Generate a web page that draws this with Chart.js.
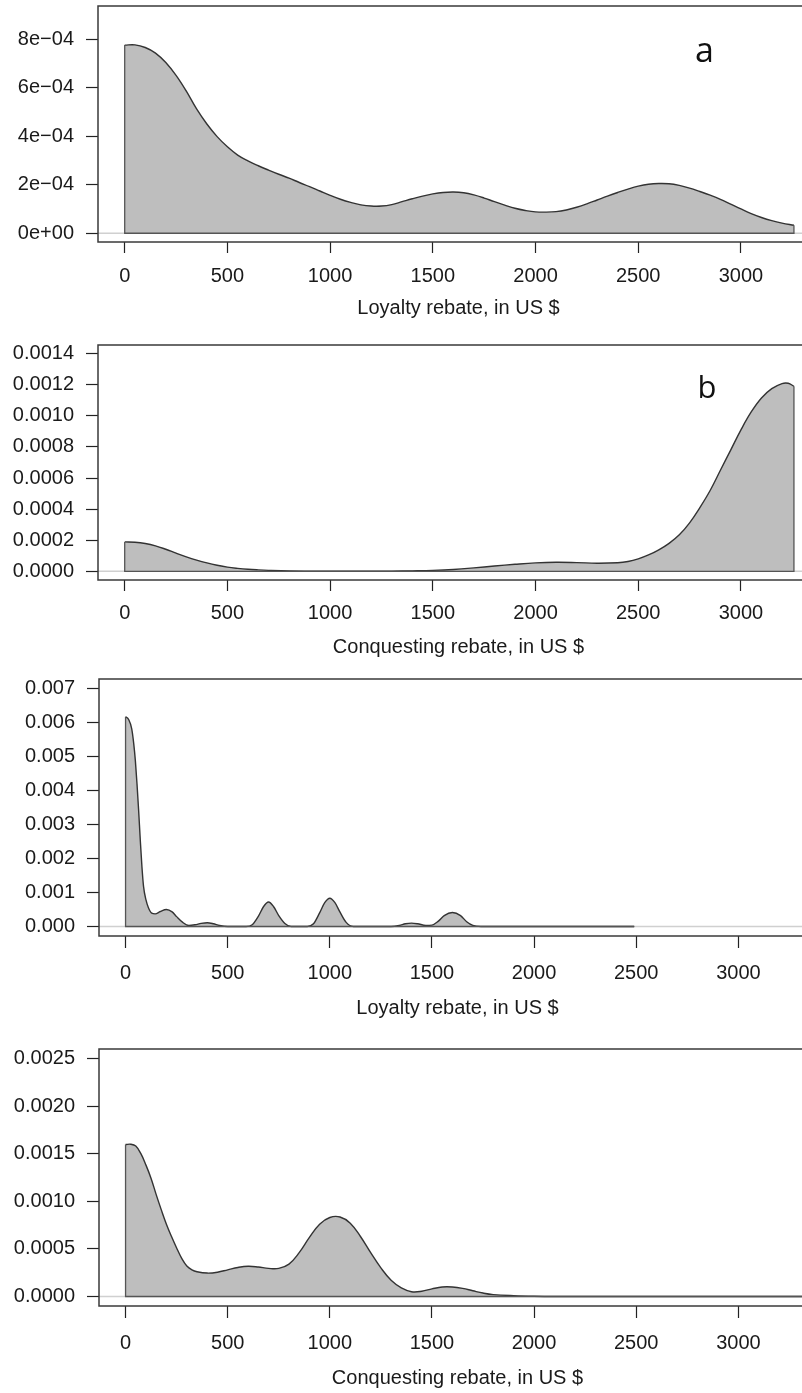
<!DOCTYPE html>
<html>
<head>
<meta charset="utf-8">
<script src="https://cdn.jsdelivr.net/npm/chart.js@4/dist/chart.umd.min.js"></script>
<style>
html,body{margin:0;padding:0;background:#fff;overflow:hidden;width:802px;height:1393px;}
#wrap{position:relative;width:802px;height:1393px;overflow:hidden;}
canvas{position:absolute;left:0;}
</style>
</head>
<body>
<div id="wrap">
<canvas id="cA" width="819" height="330" style="top:0px;width:819px;height:330px"></canvas>
<canvas id="cB" width="819" height="330" style="top:330px;width:819px;height:330px"></canvas>
<canvas id="cC" width="816" height="370" style="top:660px;width:816px;height:370px"></canvas>
<canvas id="cD" width="816" height="363" style="top:1030px;width:816px;height:363px"></canvas>
</div>
<script>
// ---------- data ----------
const xTickValues = [0, 500, 1000, 1500, 2000, 2500, 3000];
const xTickLabels = ['0', '500', '1000', '1500', '2000', '2500', '3000'];

// panel a: loyalty rebate density
const aRebate  = [0, 50, 100, 150, 200, 250, 300, 350, 400, 450, 500, 550, 600, 650, 700, 750, 800, 850, 900, 950, 1000, 1050, 1100, 1150, 1200, 1250, 1300, 1350, 1400, 1450, 1500, 1550, 1600, 1650, 1700, 1750, 1800, 1850, 1900, 1950, 2000, 2050, 2100, 2150, 2200, 2250, 2300, 2350, 2400, 2450, 2500, 2550, 2600, 2650, 2700, 2750, 2800, 2850, 2900, 2950, 3000, 3050, 3100, 3150, 3200, 3258];
const aDensity = [7.75e-4, 7.76e-4, 7.65e-4, 7.42e-4, 7.03e-4, 6.5e-4, 5.85e-4, 5.12e-4, 4.5e-4, 3.98e-4, 3.56e-4, 3.22e-4, 2.98e-4, 2.78e-4, 2.6e-4, 2.43e-4, 2.27e-4, 2.09e-4, 1.92e-4, 1.74e-4, 1.56e-4, 1.4e-4, 1.27e-4, 1.17e-4, 1.12e-4, 1.12e-4, 1.18e-4, 1.3e-4, 1.42e-4, 1.53e-4, 1.62e-4, 1.68e-4, 1.7e-4, 1.67e-4, 1.58e-4, 1.45e-4, 1.3e-4, 1.16e-4, 1.03e-4, 0.94e-4, 0.88e-4, 0.87e-4, 0.89e-4, 0.96e-4, 1.07e-4, 1.21e-4, 1.37e-4, 1.53e-4, 1.68e-4, 1.82e-4, 1.94e-4, 2.02e-4, 2.05e-4, 2.04e-4, 1.97e-4, 1.86e-4, 1.72e-4, 1.57e-4, 1.4e-4, 1.2e-4, 1.0e-4, 0.81e-4, 0.65e-4, 0.52e-4, 0.42e-4, 0.33e-4];
const aYTicks = [0, 2e-4, 4e-4, 6e-4, 8e-4];
const aYLabels = ['0e+00', '2e\u221204', '4e\u221204', '6e\u221204', '8e\u221204'];

// panel b: conquesting rebate density
const bRebate  = [0, 50, 100, 150, 200, 250, 300, 350, 400, 450, 500, 550, 600, 650, 700, 800, 900, 1000, 1100, 1200, 1300, 1400, 1500, 1600, 1700, 1800, 1900, 2000, 2100, 2200, 2300, 2400, 2450, 2500, 2550, 2600, 2650, 2700, 2750, 2800, 2850, 2900, 2950, 3000, 3050, 3100, 3150, 3200, 3230, 3258];
const bDensity = [1.89e-4, 1.87e-4, 1.79e-4, 1.64e-4, 1.42e-4, 1.17e-4, 0.93e-4, 0.72e-4, 0.54e-4, 0.39e-4, 0.27e-4, 0.19e-4, 0.13e-4, 0.09e-4, 0.06e-4, 0.02e-4, 0.005e-4, 0, 0, 0.003e-4, 0.01e-4, 0.03e-4, 0.06e-4, 0.12e-4, 0.22e-4, 0.34e-4, 0.45e-4, 0.54e-4, 0.58e-4, 0.56e-4, 0.52e-4, 0.55e-4, 0.63e-4, 0.8e-4, 1.05e-4, 1.38e-4, 1.8e-4, 2.35e-4, 3.12e-4, 4.1e-4, 5.2e-4, 6.5e-4, 7.8e-4, 9.1e-4, 10.25e-4, 11.15e-4, 11.75e-4, 12.08e-4, 12.1e-4, 11.9e-4];
const bYTicks = [0, 0.0002, 0.0004, 0.0006, 0.0008, 0.0010, 0.0012, 0.0014];
const bYLabels = ['0.0000', '0.0002', '0.0004', '0.0006', '0.0008', '0.0010', '0.0012', '0.0014'];

// panel c: loyalty rebate density (second sample)
const cRebate  = [0, 15, 30, 40, 48, 56, 64, 72, 80, 88, 100, 112, 128, 145, 170, 200, 228, 250, 280, 310, 340, 370, 400, 430, 460, 500, 590, 620, 650, 675, 700, 725, 750, 780, 810, 890, 920, 950, 975, 1000, 1025, 1050, 1080, 1115, 1300, 1340, 1370, 1400, 1430, 1470, 1500, 1530, 1560, 1600, 1640, 1670, 1700, 1740, 2490];
const cDensity = [6.17e-3, 6.09e-3, 5.82e-3, 5.38e-3, 4.88e-3, 4.2e-3, 3.42e-3, 2.55e-3, 1.77e-3, 1.18e-3, 0.78e-3, 0.55e-3, 0.39e-3, 0.37e-3, 0.44e-3, 0.5e-3, 0.43e-3, 0.29e-3, 0.12e-3, 0.03e-3, 0.05e-3, 0.09e-3, 0.11e-3, 0.08e-3, 0.03e-3, 0, 0, 0.05e-3, 0.3e-3, 0.58e-3, 0.72e-3, 0.58e-3, 0.32e-3, 0.09e-3, 0, 0, 0.08e-3, 0.4e-3, 0.7e-3, 0.83e-3, 0.7e-3, 0.42e-3, 0.12e-3, 0, 0, 0.03e-3, 0.08e-3, 0.1e-3, 0.08e-3, 0.03e-3, 0.04e-3, 0.15e-3, 0.32e-3, 0.41e-3, 0.32e-3, 0.14e-3, 0.03e-3, 0, 0];
const cYTicks = [0, 0.001, 0.002, 0.003, 0.004, 0.005, 0.006, 0.007];
const cYLabels = ['0.000', '0.001', '0.002', '0.003', '0.004', '0.005', '0.006', '0.007'];

// panel d: conquesting rebate density (second sample)
const dRebate  = [0, 25, 50, 75, 100, 125, 150, 175, 200, 225, 250, 275, 300, 325, 350, 400, 450, 500, 550, 600, 650, 700, 750, 800, 850, 900, 950, 1000, 1050, 1100, 1150, 1200, 1250, 1300, 1350, 1400, 1450, 1500, 1550, 1600, 1650, 1700, 1750, 1800, 1900, 2000, 2100, 3450];
const dDensity = [1.596e-3, 1.6e-3, 1.58e-3, 1.5e-3, 1.38e-3, 1.24e-3, 1.07e-3, 0.91e-3, 0.76e-3, 0.63e-3, 0.51e-3, 0.4e-3, 0.32e-3, 0.28e-3, 0.26e-3, 0.246e-3, 0.255e-3, 0.28e-3, 0.305e-3, 0.318e-3, 0.31e-3, 0.295e-3, 0.295e-3, 0.34e-3, 0.46e-3, 0.62e-3, 0.76e-3, 0.83e-3, 0.835e-3, 0.77e-3, 0.63e-3, 0.46e-3, 0.3e-3, 0.17e-3, 0.09e-3, 0.05e-3, 0.055e-3, 0.08e-3, 0.1e-3, 0.1e-3, 0.085e-3, 0.06e-3, 0.036e-3, 0.02e-3, 0.008e-3, 0.002e-3, 0, 0];
const dYTicks = [0, 0.0005, 0.0010, 0.0015, 0.0020, 0.0025];
const dYLabels = ['0.0000', '0.0005', '0.0010', '0.0015', '0.0020', '0.0025'];

// ---------- drawing ----------
const TXT = '#1a1a1a';
const FONT = 'Liberation Sans, Arial, Helvetica, sans-serif';

const framePlugin = {
  id: 'frame',
  beforeDatasetsDraw(chart) {
    const {ctx, chartArea: ca, scales: {y}} = chart;
    const y0 = y.getPixelForValue(0);
    ctx.save();
    ctx.strokeStyle = '#d0d0d0';
    ctx.lineWidth = 1.5;
    ctx.beginPath();
    ctx.moveTo(ca.left, y0);
    ctx.lineTo(ca.right, y0);
    ctx.stroke();
    ctx.restore();
  },
  afterDraw(chart, args, opts) {
    const {ctx, chartArea: ca} = chart;
    ctx.save();
    ctx.strokeStyle = '#3a3a3a';
    ctx.lineWidth = 1.5;
    ctx.strokeRect(ca.left, ca.top, ca.right - ca.left, ca.bottom - ca.top);
    if (opts && opts.letter) {
      ctx.fillStyle = '#111';
      ctx.font = opts.letterSize + 'px "Open Sans", "Noto Sans", sans-serif';
      ctx.textBaseline = 'alphabetic';
      ctx.textAlign = 'left';
      ctx.fillText(opts.letter, opts.lx, opts.ly);
    }
    ctx.restore();
  }
};

function noPad(s) { s.paddingTop = 0; s.paddingBottom = 0; s.paddingLeft = 0; s.paddingRight = 0; }

function makePanel(id, xs, ys, yTicks, yLabels, yMin, yMax, title, geo) {
  const n = xs.length;
  const curve = xs.map((x, i) => ({x: x, y: ys[i]}));
  // polygon edges (left side, bottom, right side) taken from the data ends
  const edges = [
    {x: xs[0], y: ys[0]}, {x: xs[0], y: 0},
    {x: xs[n - 1], y: 0}, {x: xs[n - 1], y: ys[n - 1]}
  ];
  new Chart(document.getElementById(id), {
    type: 'line',
    data: {
      datasets: [
        {
          data: curve,
          borderColor: '#333333',
          borderWidth: 1.4,
          backgroundColor: '#bebebe',
          fill: 'origin',
          pointRadius: 0,
          tension: 0.4,
          cubicInterpolationMode: geo.mono ? 'monotone' : 'default',
          order: 1
        },
        {
          data: edges,
          borderColor: '#555555',
          borderWidth: 1.3,
          fill: false,
          pointRadius: 0,
          tension: 0,
          order: 0
        }
      ]
    },
    options: {
      responsive: false,
      maintainAspectRatio: false,
      devicePixelRatio: 1,
      animation: false,
      events: [],
      layout: {padding: {top: geo.top, left: 0, right: 0, bottom: 0}},
      plugins: {
        legend: {display: false},
        tooltip: {enabled: false},
        frame: {letter: geo.letter, letterSize: geo.letterSize, lx: geo.lx, ly: geo.ly}
      },
      scales: {
        x: {
          type: 'linear',
          min: -130,
          max: 3380,
          afterFit(s) { s.height = geo.xh; noPad(s); },
          afterBuildTicks(s) { s.ticks = xTickValues.map(v => ({value: v})); },
          border: {display: false},
          grid: {display: true, drawOnChartArea: false, drawTicks: true, tickLength: geo.tl, tickColor: '#222', tickWidth: 1.2, color: 'rgba(0,0,0,0)'},
          ticks: {
            autoSkip: false, maxRotation: 0, minRotation: 0,
            padding: geo.tp, color: TXT,
            font: {family: FONT, size: 20},
            callback: (v, i) => xTickLabels[i]
          },
          title: {
            display: true, text: title, color: TXT,
            font: {family: FONT, size: 20},
            padding: {top: 0, bottom: geo.titlePad}
          }
        },
        y: {
          type: 'linear',
          min: yMin,
          max: yMax,
          afterFit(s) { s.width = geo.yw; noPad(s); },
          afterBuildTicks(s) { s.ticks = yTicks.map(v => ({value: v})); },
          border: {display: false},
          grid: {display: true, drawOnChartArea: false, drawTicks: true, tickLength: 12, tickColor: '#222', tickWidth: 1.2, color: 'rgba(0,0,0,0)'},
          ticks: {
            autoSkip: false, padding: 12, color: TXT,
            font: {family: FONT, size: 20},
            callback: (v, i) => yLabels[i]
          }
        }
      }
    },
    plugins: [framePlugin]
  });
}

makePanel('cA', aRebate, aDensity, aYTicks, aYLabels, -3.6e-5, 9.36e-4, 'Loyalty rebate, in US $',
  {top: 6, xh: 88, tl: 11, tp: 11, titlePad: 10, yw: 98, letter: 'a', letterSize: 34, lx: 695, ly: 61.5});
makePanel('cB', bRebate, bDensity, bYTicks, bYLabels, -5.6e-5, 1.456e-3, 'Conquesting rebate, in US $',
  {top: 15, xh: 80, tl: 11, tp: 10, titlePad: 1, yw: 98, letter: 'b', letterSize: 31, lx: 697.5, ly: 68});
makePanel('cC', cRebate, cDensity, cYTicks, cYLabels, -2.8e-4, 7.28e-3, 'Loyalty rebate, in US $',
  {top: 19, xh: 94, tl: 12, tp: 13, titlePad: 10, yw: 99, mono: true});
makePanel('cD', dRebate, dDensity, dYTicks, dYLabels, -1e-4, 2.6e-3, 'Conquesting rebate, in US $',
  {top: 19, xh: 87, tl: 12, tp: 13, titlePad: 3, yw: 99});
</script>
</body>
</html>
